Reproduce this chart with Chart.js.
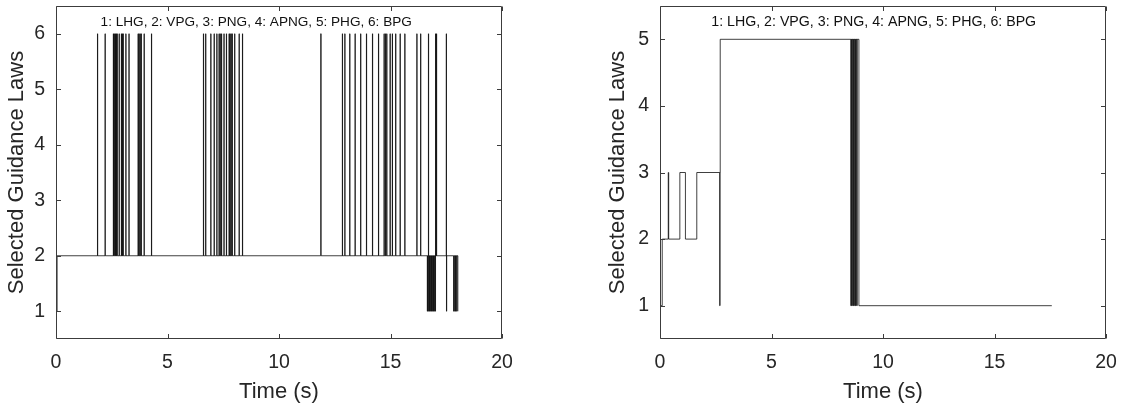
<!DOCTYPE html>
<html>
<head>
<meta charset="utf-8">
<title>Selected guidance laws</title>
<script src="https://cdn.jsdelivr.net/npm/chart.js@4.4.1/dist/chart.umd.min.js"></script>
<style>
  html, body { margin: 0; padding: 0; background: #fff; }
  #wrap { position: relative; width: 1126px; height: 407px; }
  canvas { position: absolute; top: 0; }
</style>
</head>
<body>
<div id="wrap">
  <canvas id="lawsLeft" width="563" height="407" style="left:0"></canvas>
  <canvas id="lawsRight" width="563" height="407" style="left:563px"></canvas>
</div>
<script>
// switching instants (s) and the law selected from that instant on
const leftTime = [
  0, 0.05,
  1.86, 1.87, 2.20, 2.21,
  2.57, 2.58, 2.61, 2.62, 2.66, 2.67, 2.70, 2.71, 2.74, 2.75,
  2.83, 2.84, 2.93, 2.94, 2.97, 2.98, 3.01, 3.02, 3.13, 3.14, 3.27, 3.28,
  3.68, 3.69, 3.72, 3.73, 3.77, 3.78, 3.82, 3.83, 3.95, 3.96, 4.28, 4.29,
  6.61, 6.62, 6.71, 6.72, 6.94, 6.95, 7.09, 7.10, 7.21, 7.22,
  7.31, 7.32, 7.36, 7.37, 7.42, 7.43, 7.53, 7.54, 7.64, 7.65,
  7.76, 7.77, 7.80, 7.81, 7.85, 7.86, 7.90, 7.91, 8.01, 8.02, 8.21, 8.22, 8.36, 8.37,
  11.87, 11.89,
  12.84, 12.85, 12.95, 12.96, 13.17, 13.18, 13.41, 13.42, 13.66, 13.67,
  13.92, 13.93, 14.19, 14.20, 14.46, 14.47, 14.71, 14.72, 14.77, 14.78,
  14.83, 14.84, 14.98, 14.99, 15.08, 15.09, 15.23, 15.24, 15.43, 15.44,
  15.64, 15.65, 16.18, 16.19, 16.35, 16.36,
  16.65, 16.66, 16.69, 16.70, 16.71, 16.74, 16.75, 16.78, 16.79,
  16.83, 16.84, 16.87, 16.88, 16.92, 16.93, 16.96, 16.97,
  17.01, 17.02, 17.03, 17.06, 17.07,
  17.50, 17.51, 17.52,
  17.83, 17.84, 17.88, 17.89, 17.92, 17.93, 17.97, 17.98, 18.02
];
const leftLaw = [
  1, 2,
  6, 2, 6, 2,
  6, 2, 6, 2, 6, 2, 6, 2, 6, 2,
  6, 2, 6, 2, 6, 2, 6, 2, 6, 2, 6, 2,
  6, 2, 6, 2, 6, 2, 6, 2, 6, 2, 6, 2,
  6, 2, 6, 2, 6, 2, 6, 2, 6, 2,
  6, 2, 6, 2, 6, 2, 6, 2, 6, 2,
  6, 2, 6, 2, 6, 2, 6, 2, 6, 2, 6, 2, 6, 2,
  6, 2,
  6, 2, 6, 2, 6, 2, 6, 2, 6, 2,
  6, 2, 6, 2, 6, 2, 6, 2, 6, 2,
  6, 2, 6, 2, 6, 2, 6, 2, 6, 2,
  6, 2, 6, 2, 6, 2,
  1, 2, 1, 6, 2, 1, 2, 1, 2,
  1, 2, 1, 2, 1, 2, 1, 2,
  1, 6, 2, 6, 2,
  6, 1, 2,
  1, 2, 1, 2, 1, 2, 1, 2, 1
];

const rightTime = [
  0, 0.10, 0.37, 0.39, 0.89, 1.14, 1.65, 2.68, 2.69, 2.70,
  8.56, 8.57, 8.60, 8.61, 8.65, 8.66, 8.69, 8.70, 8.74, 8.75,
  8.78, 8.79, 8.83, 8.84, 8.92, 17.57
];
const rightLaw = [
  1, 2, 3, 2, 3, 2, 3, 1, 3, 5,
  1, 5, 1, 5, 1, 5, 1, 5, 1, 5,
  1, 5, 1, 5, 1, 1
];

const timeTicks = [0, 5, 10, 15, 20];
const leftLawTicks = [1, 2, 3, 4, 5, 6];
const rightLawTicks = [1, 2, 3, 4, 5];
const lawKey = '1: LHG, 2: VPG, 3: PNG, 4: APNG, 5: PHG, 6: BPG';

const FONT = "'Liberation Sans', Arial, Helvetica, sans-serif";
const INK = '#262626';

// closed axes box with inward tick marks on all four sides
const boxTicks = {
  id: 'boxTicks',
  afterDatasetsDraw(chart) {
    const { ctx, chartArea: a, scales: { x, y } } = chart;
    const L = Math.round(a.left) + 0.5, R = Math.round(a.right) - 0.5;
    const T = Math.round(a.top) + 0.5, B = Math.round(a.bottom) - 0.5;
    const len = 4.5;
    ctx.save();
    ctx.strokeStyle = '#3c3c3c';
    ctx.lineWidth = 1;
    ctx.beginPath();
    ctx.rect(L, T, R - L, B - T);
    x.ticks.forEach(t => {
      const px = Math.round(x.getPixelForValue(t.value)) + 0.5;
      ctx.moveTo(px, B); ctx.lineTo(px, B - len);
      ctx.moveTo(px, T); ctx.lineTo(px, T + len);
    });
    y.ticks.forEach(t => {
      const py = Math.round(y.getPixelForValue(t.value)) + 0.5;
      ctx.moveTo(L, py); ctx.lineTo(L + len, py);
      ctx.moveTo(R, py); ctx.lineTo(R - len, py);
    });
    ctx.stroke();
    ctx.restore();
  }
};

// legend text for the law numbers, placed at a data position
const lawNote = {
  id: 'lawNote',
  afterDatasetsDraw(chart, args, opts) {
    const { ctx, scales: { x, y } } = chart;
    ctx.save();
    ctx.font = opts.size + 'px ' + FONT;
    ctx.fillStyle = '#111';
    ctx.textAlign = 'left';
    ctx.textBaseline = 'middle';
    ctx.fillText(opts.text, x.getPixelForValue(opts.x), y.getPixelForValue(opts.y));
    ctx.restore();
  }
};

function makeChart(id, times, laws, lawTicks, cfg) {
  const points = times.map((t, i) => ({ x: t, y: laws[i] }));
  return new Chart(document.getElementById(id).getContext('2d'), {
    type: 'line',
    data: {
      datasets: [{
        data: points,
        stepped: true,
        borderColor: '#000',
        borderWidth: 0.75,
        pointRadius: 0,
        fill: false,
      }]
    },
    options: {
      responsive: false,
      animation: false,
      devicePixelRatio: 1,
      layout: { padding: { top: 6, right: cfg.padRight, left: 0, bottom: 0 } },
      plugins: {
        legend: { display: false },
        tooltip: { enabled: false },
        lawNote: { text: lawKey, x: cfg.noteX, y: cfg.noteY, size: cfg.noteSize },
      },
      scales: {
        x: {
          type: 'linear',
          min: 0,
          max: 20,
          afterBuildTicks: s => { s.ticks = timeTicks.map(v => ({ value: v })); },
          afterFit: s => { s.height = 68; s.paddingLeft = 0; s.paddingRight = 0; },
          ticks: { color: INK, padding: 12, font: { family: FONT, size: 19.5 } },
          grid: { display: false, drawTicks: false },
          border: { display: false },
          title: { display: true, text: 'Time (s)', color: INK, padding: { top: 0, bottom: 2 }, font: { family: FONT, size: 22 } },
        },
        y: {
          min: cfg.yMin,
          max: cfg.yMax,
          afterBuildTicks: s => { s.ticks = lawTicks.map(v => ({ value: v })); },
          afterFit: s => { s.width = cfg.axisWidth; s.paddingTop = 0; s.paddingBottom = 0; },
          ticks: { color: INK, padding: 11, font: { family: FONT, size: 19.5 } },
          grid: { display: false, drawTicks: false },
          border: { display: false },
          title: { display: true, text: 'Selected Guidance Laws', color: INK, padding: { top: cfg.titlePad, bottom: 0 }, font: { family: FONT, size: 22 } },
        }
      }
    },
    plugins: [boxTicks, lawNote]
  });
}

makeChart('lawsLeft', leftTime, leftLaw, leftLawTicks,
  { yMin: 0.5, yMax: 6.5, axisWidth: 56, padRight: 61, titlePad: 3.5, noteX: 2.0, noteY: 6.2, noteSize: 13.6 });
makeChart('lawsRight', rightTime, rightLaw, rightLawTicks,
  { yMin: 0.5, yMax: 5.5, axisWidth: 97, padRight: 20, titlePad: 42, noteX: 2.3, noteY: 5.26, noteSize: 14.2 });
</script>
</body>
</html>
